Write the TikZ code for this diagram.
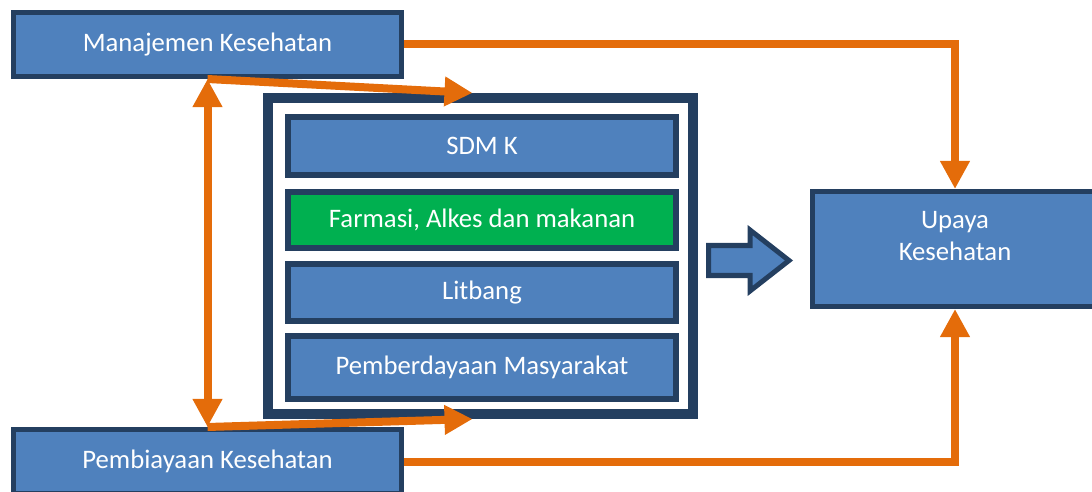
\documentclass[tikz,border=0pt]{standalone}
\usepackage{fontspec}
\setmainfont{Carlito}
\usetikzlibrary{arrows.meta}
\definecolor{navy}{HTML}{243F60}
\definecolor{boxblue}{HTML}{4F81BD}
\definecolor{boxgreen}{HTML}{00B050}
\definecolor{linkorange}{HTML}{E46C0A}
\begin{document}
\begin{tikzpicture}[
            x=0.025cm, y=-0.025cm,
            box/.style={rectangle, draw=navy, line width=0.125cm, fill=boxblue, text=white, inner sep=0pt, font=\fontsize{19}{23.2}\selectfont, minimum width=9.7cm, minimum height=1.6cm},
            inbox/.style={box, line width=0.15cm, minimum width=9.7cm},
            frame/.style={rectangle, draw=navy, line width=0.25cm, fill=white, minimum width=10.625cm, minimum height=7.9cm},
            link/.style={draw=linkorange, line width=0.2cm, -{Triangle[width=0.7cm,length=0.7cm]}},
        ]
            \useasboundingbox (0,0) rectangle (1092,492);
            \clip (0,0) rectangle (1092,492);
            \node[box](mk) at (207.5,44.5) {Manajemen Kesehatan};
            \node[box](pk) at (207.5,461.5) {Pembiayaan Kesehatan};
            \node[box, minimum width=7.125cm, minimum height=2.875cm](up) at (955,249) {\begin{tabular}{c} Upaya \\ Kesehatan \\[0.55cm] \end{tabular}};
            \node[frame](fr) at (480.5,256) {};
            \node[inbox, minimum height=1.45cm](sdm) at (482,146) {SDM K};
            \node[inbox, fill=boxgreen, minimum height=1.4cm](far) at (482,220) {Farmasi, Alkes dan makanan};
            \node[inbox, minimum height=1.425cm](lit) at (482,292.5) {Litbang};
            \node[inbox, minimum height=1.575cm](pem) at (482,367.5) {Pemberdayaan Masyarakat};
            \draw[navy, fill=boxblue, line width=0.125cm, line join=miter] (708.5,245.5) -- (750,245.5) -- (750,230) -- (789,260.5) -- (750,291) -- (750,275.5) -- (708.5,275.5) -- cycle;
            \draw[link] (mk.east) -| (up.north);
            \draw[link] (pk.east) -| (up.south);
            \draw[link, {Triangle[width=0.7cm,length=0.7cm]}-{Triangle[width=0.7cm,length=0.7cm]}] (mk.south) -- (pk.north);
            \draw[link] (mk.south) -- ([xshift=-0.2cm]fr.north);
            \draw[link] (pk.north) -- ([xshift=-0.2cm]fr.south);
        \end{tikzpicture}
\end{document}
